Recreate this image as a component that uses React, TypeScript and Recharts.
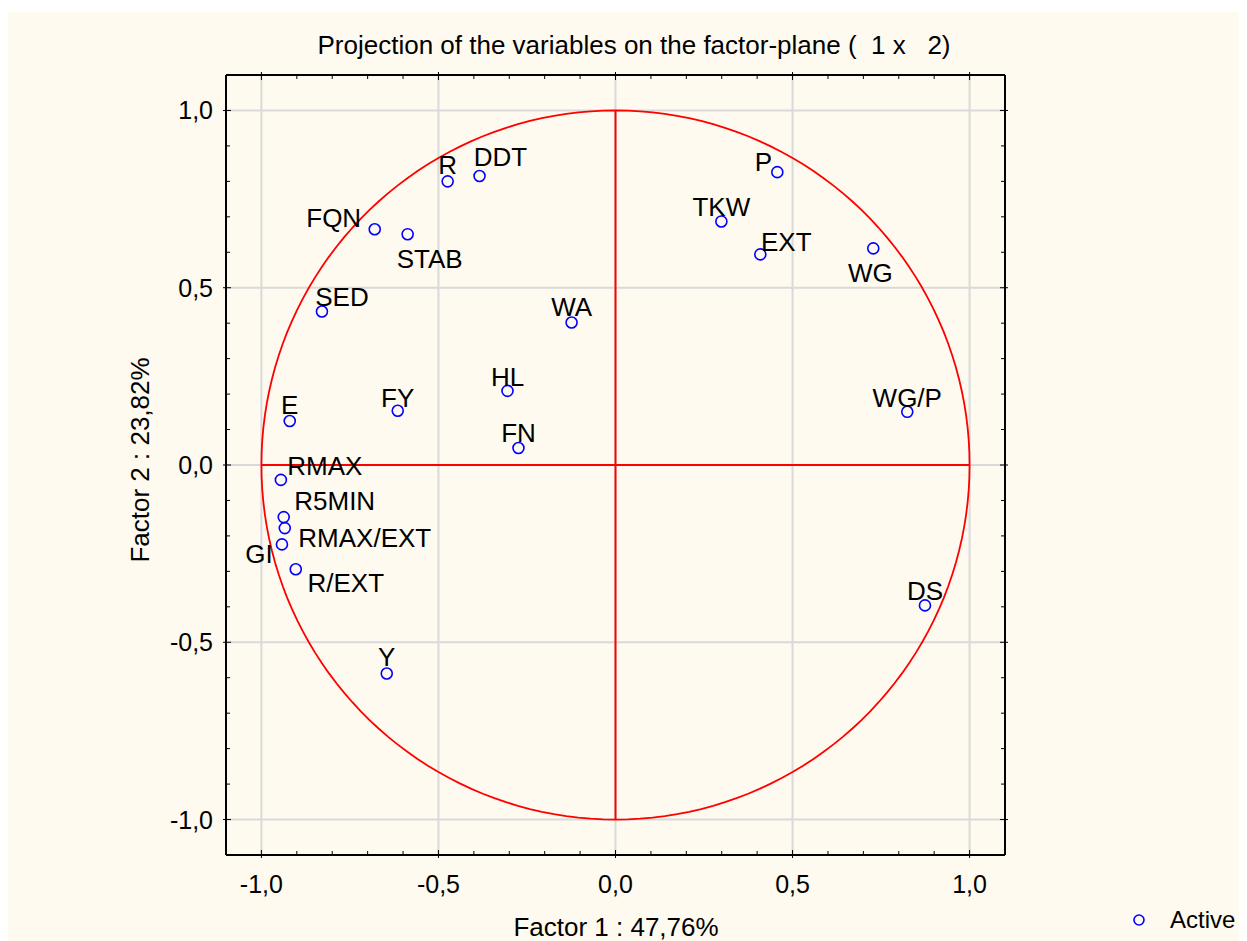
import React from 'react';
import {
  ScatterChart,
  Scatter,
  XAxis,
  YAxis,
  ReferenceLine,
} from 'recharts';

// variable names and their loadings on factor 1 / factor 2
const variables = ['R', 'DDT', 'P', 'TKW', 'EXT', 'WG', 'FQN', 'STAB', 'SED', 'WA', 'HL', 'FY', 'E', 'FN', 'WG/P', 'RMAX', 'R5MIN', 'RMAX/EXT', 'GI', 'R/EXT', 'Y', 'DS'];
const factor1 = [-0.474, -0.384, 0.457, 0.299, 0.409, 0.728, -0.68, -0.587, -0.829, -0.124, -0.305, -0.615, -0.92, -0.274, 0.824, -0.945, -0.937, -0.934, -0.942, -0.903, -0.646, 0.874];
const factor2 = [0.8, 0.815, 0.826, 0.687, 0.594, 0.611, 0.665, 0.651, 0.433, 0.402, 0.209, 0.153, 0.124, 0.048, 0.15, -0.042, -0.147, -0.178, -0.224, -0.294, -0.588, -0.396];

const majorTicks = [-1, -0.5, 0, 0.5, 1];
const allTicks = [-1, -0.9, -0.8, -0.7, -0.6, -0.5, -0.4, -0.3, -0.2, -0.1, 0, 0.1, 0.2, 0.3, 0.4, 0.5, 0.6, 0.7, 0.8, 0.9, 1];

// label placement relative to point (px)
const labelOffset: Record<string, [number, number]> = {
  R: [0, -16], DDT: [21, -19], P: [-14, -10], TKW: [0, -14], EXT: [26, -12], WG: [-3, 25],
  FQN: [-41, -11], STAB: [22, 25], SED: [20, -14], WA: [0, -15], HL: [0, -14], FY: [0, -13],
  E: [0, -16], FN: [0, -15], 'WG/P': [0, -14], RMAX: [44, -14], R5MIN: [51, -16],
  'RMAX/EXT': [80, 10], GI: [-23, 10], 'R/EXT': [50, 14], Y: [0, -16], DS: [0, -14],
};

const points = variables.map((name, i) => ({ name, x: factor1[i], y: factor2[i] }));

// unit circle (correlation circle)
const circle = Array.from({ length: 181 }, (_, i) => {
  const a = (i * 2 * Math.PI) / 180;
  return { x: Math.cos(a), y: Math.sin(a) };
});

const FONT = 'Arial, "Liberation Sans", sans-serif';
const BG = '#fefaef';

const isMajor = (v: number) => Math.abs(v * 2 - Math.round(v * 2)) < 1e-6;
const fmt = (v: number) => v.toFixed(1).replace('.', ',');

const makeTick = (side: 'bottom' | 'top' | 'left' | 'right', labels: boolean) => (props: any) => {
  const { x, y, payload } = props;
  const v = payload.value as number;
  const major = isMajor(v);
  const inLen = major ? 5 : 4;
  const outLen = major ? 3 : 0;
  let line;
  if (side === 'bottom') line = <line x1={x} x2={x} y1={y + outLen} y2={y - inLen} stroke="#000" />;
  else if (side === 'top') line = <line x1={x} x2={x} y1={y - outLen} y2={y + inLen} stroke="#000" />;
  else if (side === 'left') line = <line x1={x - outLen} x2={x + inLen} y1={y} y2={y} stroke="#000" />;
  else line = <line x1={x + outLen} x2={x - inLen} y1={y} y2={y} stroke="#000" />;
  return (
    <g>
      {line}
      {labels && major && side === 'bottom' && (
        <text x={x} y={y + 29} textAnchor="middle" dominantBaseline="central" fontSize={25} fontFamily={FONT} fill="#000">
          {fmt(v)}
        </text>
      )}
      {labels && major && side === 'left' && (
        <text x={x - 13} y={y} textAnchor="end" dominantBaseline="central" fontSize={25} fontFamily={FONT} fill="#000">
          {fmt(v)}
        </text>
      )}
    </g>
  );
};

const PointShape = (props: any) => {
  const { cx, cy, payload } = props;
  const [dx, dy] = labelOffset[payload.name] || [0, -15];
  return (
    <g>
      <circle cx={cx} cy={cy} r={5.5} fill="none" stroke="#0000ff" strokeWidth={1.6} />
      <text x={cx + dx} y={cy + dy} textAnchor="middle" dominantBaseline="central" fontSize={26} fontFamily={FONT} fill="#000">
        {payload.name}
      </text>
    </g>
  );
};

const abs = (x: number, y: number, extra: React.CSSProperties = {}): React.CSSProperties => ({
  position: 'absolute',
  left: x,
  top: y,
  transform: 'translate(-50%, -50%)',
  whiteSpace: 'pre',
  fontFamily: FONT,
  color: '#000',
  lineHeight: 1,
  ...extra,
});

export default function App() {
  const W = 1231;
  const H = 929;
  return (
    <div style={{ position: 'relative', width: W, height: H, marginTop: 4, background: BG }}>
      <ScatterChart width={W} height={H} margin={{ top: 53, left: 158, right: 224, bottom: 56 }}>
        <XAxis xAxisId="b" type="number" dataKey="x" domain={[-1.1, 1.1]} ticks={allTicks} interval={0}
          orientation="bottom" height={30} tickSize={0} tickMargin={0} tickLine={false}
          axisLine={{ stroke: '#000', strokeWidth: 2 }} tick={makeTick('bottom', true)} allowDataOverflow />
        <XAxis xAxisId="t" type="number" dataKey="x" domain={[-1.1, 1.1]} ticks={allTicks} interval={0}
          orientation="top" height={10} tickSize={0} tickMargin={0} tickLine={false}
          axisLine={{ stroke: '#000', strokeWidth: 2 }} tick={makeTick('top', false)} allowDataOverflow />
        <YAxis yAxisId="l" type="number" dataKey="y" domain={[-1.1, 1.1]} ticks={allTicks} interval={0}
          orientation="left" width={60} tickSize={0} tickMargin={0} tickLine={false}
          axisLine={{ stroke: '#000', strokeWidth: 2 }} tick={makeTick('left', true)} allowDataOverflow />
        <YAxis yAxisId="r" type="number" dataKey="y" domain={[-1.1, 1.1]} ticks={allTicks} interval={0}
          orientation="right" width={10} tickSize={0} tickMargin={0} tickLine={false}
          axisLine={{ stroke: '#000', strokeWidth: 2 }} tick={makeTick('right', false)} allowDataOverflow />

        {majorTicks.map((v) => (
          <ReferenceLine key={'gx' + v} xAxisId="b" yAxisId="l" x={v} stroke="#d9d9d9" strokeWidth={2} />
        ))}
        {majorTicks.map((v) => (
          <ReferenceLine key={'gy' + v} xAxisId="b" yAxisId="l" y={v} stroke="#d9d9d9" strokeWidth={2} />
        ))}
        <ReferenceLine xAxisId="b" yAxisId="l" segment={[{ x: 0, y: -1 }, { x: 0, y: 1 }]} stroke="#ff0000" strokeWidth={2} />
        <ReferenceLine xAxisId="b" yAxisId="l" segment={[{ x: -1, y: 0 }, { x: 1, y: 0 }]} stroke="#ff0000" strokeWidth={2} />

        <Scatter xAxisId="b" yAxisId="l" data={circle} line={{ stroke: '#ff0000', strokeWidth: 1.8 }}
          lineType="joint" shape={() => <g />} legendType="none" isAnimationActive={false} />
        <Scatter xAxisId="b" yAxisId="l" name="Active" data={points} shape={PointShape} isAnimationActive={false} />
      </ScatterChart>

      <div style={abs(626, 33, { fontSize: 26 })}>{'Projection of the variables on the factor-plane (  1 x   2)'}</div>
      <div style={abs(608, 915, { fontSize: 26 })}>Factor 1 : 47,76%</div>
      <div style={abs(132, 448, { fontSize: 26, transform: 'translate(-50%, -50%) rotate(-90deg)' })}>Factor 2 : 23,82%</div>
      <div style={{ position: 'absolute', left: 1125, top: 908, transform: 'translateY(-50%)', display: 'flex', alignItems: 'center', whiteSpace: 'nowrap', fontFamily: FONT, fontSize: 24 }}>
        <svg width={12} height={12}>
          <circle cx={6} cy={6} r={5} fill="none" stroke="#0000ff" strokeWidth={1.6} />
        </svg>
        <span style={{ marginLeft: 25 }}>Active</span>
      </div>
    </div>
  );
}
